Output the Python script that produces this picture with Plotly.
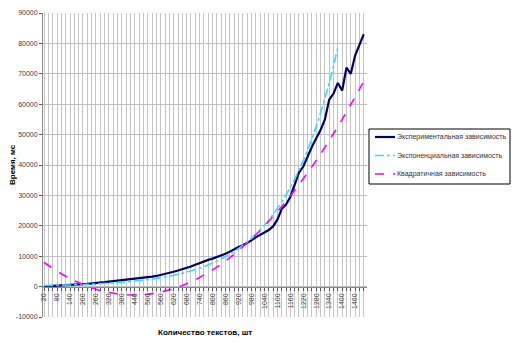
import plotly.graph_objects as go

# Number of texts (category step 20)
texts = list(range(20, 1501, 20))

# Measured processing time, ms
measured = [
    100, 150, 200, 250, 300, 350, 450, 550, 650, 800,
    900, 1000, 1150, 1300, 1450, 1650, 1800, 1950, 2100, 2200,
    2350, 2500, 2700, 2900, 3100, 3300, 3500, 3800, 4100, 4500,
    4900, 5300, 5700, 6100, 6600, 7200, 7800, 8300, 8800, 9200,
    9700, 10200, 10800, 11500, 12300, 13000, 13600, 14300, 15200, 16200,
    17000, 17700, 18600, 19800, 22000, 25500, 27000, 29500, 33500, 37500,
    39500, 43000, 46000, 48800, 51500, 55000, 61500, 63500, 67000, 64500,
    72000, 70000, 76000, 79500, 83000,
]

# Exponential trend
exp_x = [20, 80, 140, 200, 260, 320, 380, 440, 500, 560, 620, 680, 740,
         800, 860, 920, 980, 1040, 1100, 1160, 1220, 1280, 1340, 1380]
exp_y = [340, 430, 550, 700, 890, 1130, 1440, 1830, 2330, 2960, 3760, 4780,
         6080, 7730, 9830, 12490, 15880, 20190, 25670, 32630, 41480, 52730,
         67040, 78650]

# Quadratic trend
quad_x = [20, 80, 140, 200, 260, 320, 380, 440, 500, 560, 620, 680, 740,
          800, 860, 920, 980, 1040, 1100, 1160, 1220, 1280, 1340, 1400,
          1460, 1500]
quad_y = [7930, 5060, 2650, 670, -850, -1930, -2560, -2750, -2490, -1780,
          -630, 970, 3020, 5510, 8450, 11830, 15670, 19940, 24670, 29840,
          35460, 41520, 48030, 54990, 62390, 67570]

y_ticks = [-10000, 0, 10000, 20000, 30000, 40000, 50000, 60000, 70000, 80000, 90000]
y_labels = ["-10000", "0", "10000", "20000", "30000", "40000", "50000",
            "60000", "70000", "80000", "90000"]

names = ["Экспериментальная зависимость",
         "Экспоненциальная зависимость",
         "Квадратичная зависимость"]

FONT = "Liberation Sans, Arial, sans-serif"
VGRID = "#c4c4c4"

W, H = 512, 343
ML, MR, MT, MB = 43, 145, 13, 26
PW, PH = W - ML - MR, H - MT - MB


def px(x):
    """Pixel column -> paper x."""
    return (x - ML) / PW


def py(y):
    """Pixel row -> paper y."""
    return (H - MB - y) / PH


styles = [
    dict(color="#000066", width=2.2),
    dict(color="#33ddff", width=1.6, dash="dashdot"),
    dict(color="#ff00ff", width=1.6, dash="dash"),
]

fig = go.Figure()
fig.add_trace(go.Scatter(x=texts, y=measured, mode="lines", name=names[0],
                         line=styles[0]))
fig.add_trace(go.Scatter(x=exp_x, y=exp_y, mode="lines", name=names[1],
                         line=dict(styles[1], shape="spline")))
fig.add_trace(go.Scatter(x=quad_x, y=quad_y, mode="lines", name=names[2],
                         line=dict(styles[2], shape="spline")))

# Boxed legend to the right of the plot area
shapes = [dict(type="rect", xref="paper", yref="paper",
               x0=px(369), x1=px(510), y0=py(129), y1=py(184),
               line=dict(color="#000000", width=1), fillcolor="white",
               layer="above")]
annotations = []
rows = [137, 155.5, 174]
for name, style, ry in zip(names, styles, rows):
    shapes.append(dict(type="line", xref="paper", yref="paper",
                       x0=px(375), x1=px(395), y0=py(ry), y1=py(ry),
                       line=style, layer="above"))
    annotations.append(dict(text=name, xref="paper", yref="paper",
                            x=px(395), y=py(ry), xanchor="left",
                            yanchor="middle", showarrow=False,
                            font=dict(size=7, color="#333333")))

annotations += [
    dict(text="<b>Время, мс</b>", textangle=-90, xref="paper", yref="paper",
         x=px(12), y=0.5, xanchor="center", yanchor="middle",
         showarrow=False, font=dict(size=8, color="#000000")),
    dict(text="<b>Количество текстов, шт</b>", xref="paper", yref="paper",
         x=0.5, y=py(332), xanchor="center", yanchor="middle",
         showarrow=False, font=dict(size=8, color="#000000")),
]

fig.update_layout(
    width=W, height=H,
    margin=dict(l=ML, r=MR, t=MT, b=MB, autoexpand=False),
    paper_bgcolor="white", plot_bgcolor="white",
    font=dict(family=FONT, size=7, color="#404040"),
    showlegend=False,
    xaxis=dict(
        range=[15, 1515], anchor="free", position=0.1,
        tickmode="linear", tick0=20, dtick=60, tickangle=-90,
        ticks="outside", ticklen=3, tickcolor="#555555",
        showline=True, linecolor="#888888", linewidth=1,
        showgrid=True, gridcolor=VGRID, gridwidth=1, zeroline=False,
        minor=dict(tickmode="linear", dtick=20, tick0=20, ticks="outside",
                   ticklen=3, tickcolor="#555555", showgrid=True,
                   gridcolor=VGRID, gridwidth=1),
        tickfont=dict(size=7, color="#404040"),
    ),
    yaxis=dict(
        range=[-10000, 90000], tickmode="array", tickvals=y_ticks,
        ticktext=y_labels, ticks="outside", ticklen=3, tickcolor="#555555",
        showline=True, linecolor="#888888", linewidth=1,
        showgrid=True, gridcolor="#c0c0c0", zeroline=False,
        tickfont=dict(size=7, color="#404040"),
    ),
    shapes=shapes,
    annotations=annotations,
)

fig.write_html("out.html")
